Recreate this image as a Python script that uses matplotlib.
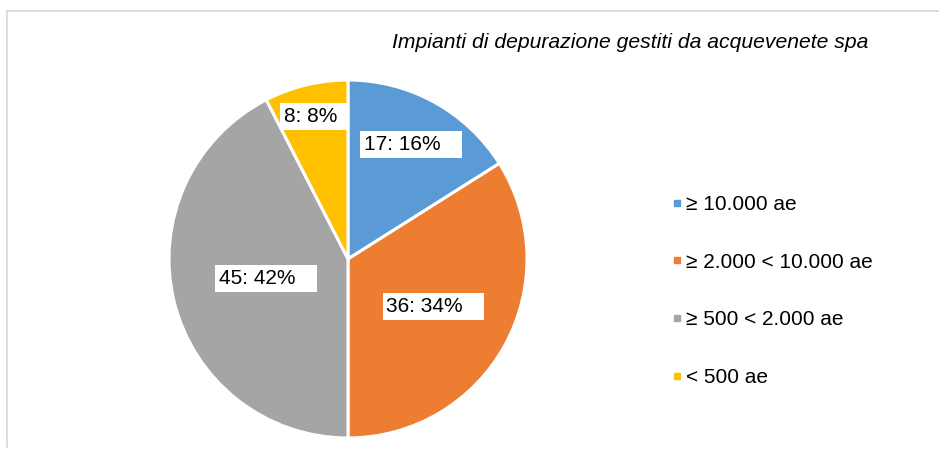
import numpy as np
import matplotlib
matplotlib.use('Agg')
import matplotlib.pyplot as plt
from matplotlib.lines import Line2D

plt.rcParams['font.family'] = ['Liberation Sans', 'DejaVu Sans']

# dati
categorie = ['≥ 10.000 ae', '≥ 2.000 < 10.000 ae', '≥ 500 < 2.000 ae', '< 500 ae']
impianti = [17, 36, 45, 8]
colori = ['#5B9BD5', '#ED7D31', '#A5A5A5', '#FFC000']
titolo = 'Impianti di depurazione gestiti da acquevenete spa'

# distanza radiale delle etichette e spazi a destra nel riquadro (layout)
dist_etichette = [0.73, 0.545, 0.47, 0.82]
spazi = [3, 3, 3, 1]

W, H = 939, 450
fig = plt.figure(figsize=(W / 100, H / 100), dpi=100)

# cornice grigia chiara (solo sinistra e in alto)
fig.add_artist(Line2D([7 / W, 7 / W], [1 - 447 / H, 1 - 10.5 / H], color='#d9d9d9', lw=1.3))
fig.add_artist(Line2D([7 / W, 1], [1 - 10.5 / H, 1 - 10.5 / H], color='#d9d9d9', lw=1.3))

cx, cy, r = 348, 259, 179
ax = fig.add_axes([(cx - r) / W, (H - cy - r) / H, 2 * r / W, 2 * r / H])
wedges, _ = ax.pie(impianti, colors=colori, startangle=90, counterclock=False,
                   wedgeprops=dict(edgecolor='white', linewidth=2.2))
ax.set_xlim(-1, 1)
ax.set_ylim(-1, 1)
ax.set_aspect('equal')
ax.axis('off')

tot = sum(impianti)
for w, v, d, s in zip(wedges, impianti, dist_etichette, spazi):
    ang = np.deg2rad((w.theta1 + w.theta2) / 2)
    pct = round(100 * v / tot)
    ax.text(d * np.cos(ang), d * np.sin(ang), f'{v}: {pct}%' + ' ' * s,
            ha='center', va='center', fontsize=15,
            bbox=dict(facecolor='white', edgecolor='none', pad=2.8))

fig.text(630 / W, 1 - 42 / H, titolo, ha='center', va='center',
         fontsize=15.2, style='italic')

handles = [Line2D([], [], marker='s', linestyle='none', markersize=5,
                  markerfacecolor=c, markeredgecolor=c) for c in colori]
fig.legend(handles, categorie, loc='center left', bbox_to_anchor=(662 / W, 1 - 291 / H),
           frameon=False, fontsize=15, handlelength=0.6, handletextpad=0.15,
           labelspacing=1.86, borderaxespad=0)

fig.savefig('out.png', dpi=100)
